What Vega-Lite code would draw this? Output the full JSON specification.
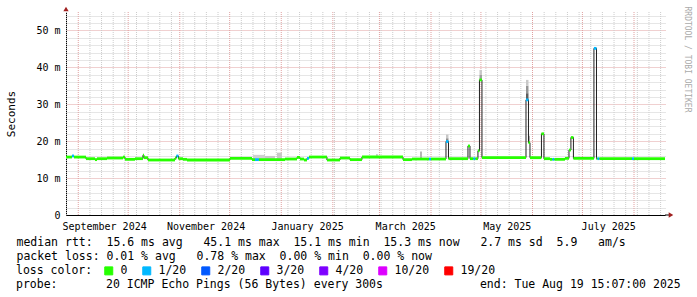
{
  "$schema": "https://vega.github.io/schema/vega-lite/v6.json",
  "width": 599,
  "height": 203,
  "autosize": "none",
  "padding": {"left": 66, "top": 12, "right": 32, "bottom": 82},
  "background": "white",
  "config": {"view": {"stroke": null}, "font": "DejaVu Sans Mono"},
  "datasets": {
    "grid": [
      {"t": "2024-08-25T00:00", "kind": "week"},
      {"t": "2024-09-08T00:00", "kind": "week"},
      {"t": "2024-09-15T00:00", "kind": "week"},
      {"t": "2024-09-22T00:00", "kind": "week"},
      {"t": "2024-09-29T00:00", "kind": "week"},
      {"t": "2024-10-06T00:00", "kind": "week"},
      {"t": "2024-10-13T00:00", "kind": "week"},
      {"t": "2024-10-20T00:00", "kind": "week"},
      {"t": "2024-10-27T00:00", "kind": "week"},
      {"t": "2024-11-03T00:00", "kind": "week"},
      {"t": "2024-11-10T00:00", "kind": "week"},
      {"t": "2024-11-17T00:00", "kind": "week"},
      {"t": "2024-11-24T00:00", "kind": "week"},
      {"t": "2024-12-08T00:00", "kind": "week"},
      {"t": "2024-12-15T00:00", "kind": "week"},
      {"t": "2024-12-22T00:00", "kind": "week"},
      {"t": "2024-12-29T00:00", "kind": "week"},
      {"t": "2025-01-05T00:00", "kind": "week"},
      {"t": "2025-01-12T00:00", "kind": "week"},
      {"t": "2025-01-19T00:00", "kind": "week"},
      {"t": "2025-01-26T00:00", "kind": "week"},
      {"t": "2025-02-02T00:00", "kind": "week"},
      {"t": "2025-02-09T00:00", "kind": "week"},
      {"t": "2025-02-16T00:00", "kind": "week"},
      {"t": "2025-02-23T00:00", "kind": "week"},
      {"t": "2025-03-02T00:00", "kind": "week"},
      {"t": "2025-03-09T00:00", "kind": "week"},
      {"t": "2025-03-16T00:00", "kind": "week"},
      {"t": "2025-03-23T00:00", "kind": "week"},
      {"t": "2025-03-30T00:00", "kind": "week"},
      {"t": "2025-04-06T00:00", "kind": "week"},
      {"t": "2025-04-13T00:00", "kind": "week"},
      {"t": "2025-04-20T00:00", "kind": "week"},
      {"t": "2025-04-27T00:00", "kind": "week"},
      {"t": "2025-05-04T00:00", "kind": "week"},
      {"t": "2025-05-11T00:00", "kind": "week"},
      {"t": "2025-05-18T00:00", "kind": "week"},
      {"t": "2025-05-25T00:00", "kind": "week"},
      {"t": "2025-06-08T00:00", "kind": "week"},
      {"t": "2025-06-15T00:00", "kind": "week"},
      {"t": "2025-06-22T00:00", "kind": "week"},
      {"t": "2025-06-29T00:00", "kind": "week"},
      {"t": "2025-07-06T00:00", "kind": "week"},
      {"t": "2025-07-13T00:00", "kind": "week"},
      {"t": "2025-07-20T00:00", "kind": "week"},
      {"t": "2025-07-27T00:00", "kind": "week"},
      {"t": "2025-08-03T00:00", "kind": "week"},
      {"t": "2025-08-10T00:00", "kind": "week"},
      {"t": "2025-08-17T00:00", "kind": "week"},
      {"t": "2024-09-01T00:00", "kind": "month"},
      {"t": "2024-10-01T00:00", "kind": "month"},
      {"t": "2024-11-01T00:00", "kind": "month"},
      {"t": "2024-12-01T00:00", "kind": "month"},
      {"t": "2025-01-01T00:00", "kind": "month"},
      {"t": "2025-02-01T00:00", "kind": "month"},
      {"t": "2025-03-01T00:00", "kind": "month"},
      {"t": "2025-04-01T00:00", "kind": "month"},
      {"t": "2025-05-01T00:00", "kind": "month"},
      {"t": "2025-06-01T00:00", "kind": "month"},
      {"t": "2025-07-01T00:00", "kind": "month"},
      {"t": "2025-08-01T00:00", "kind": "month"}
    ],
    "median": [
      {"start": "2024-08-24T15:07", "end": "2024-08-28T05:00", "rtt": 15.7, "loss": "0"},
      {"start": "2024-08-28T05:00", "end": "2024-08-29T10:00", "rtt": 16.0, "loss": "1/20"},
      {"start": "2024-08-29T10:00", "end": "2024-09-05T15:00", "rtt": 15.7, "loss": "0"},
      {"start": "2024-09-05T15:00", "end": "2024-09-11T01:00", "rtt": 15.26, "loss": "0"},
      {"start": "2024-09-11T01:00", "end": "2024-09-12T06:00", "rtt": 15.0, "loss": "0"},
      {"start": "2024-09-12T06:00", "end": "2024-09-18T06:00", "rtt": 15.26, "loss": "0"},
      {"start": "2024-09-18T06:00", "end": "2024-09-27T21:00", "rtt": 15.44, "loss": "0"},
      {"start": "2024-09-27T21:00", "end": "2024-09-29T02:00", "rtt": 15.7, "loss": "0"},
      {"start": "2024-09-29T02:00", "end": "2024-10-05T02:00", "rtt": 15.08, "loss": "0"},
      {"start": "2024-10-05T02:00", "end": "2024-10-09T21:00", "rtt": 15.26, "loss": "0"},
      {"start": "2024-10-09T21:00", "end": "2024-10-10T12:00", "rtt": 16.2, "loss": "0"},
      {"start": "2024-10-10T12:00", "end": "2024-10-12T21:00", "rtt": 15.53, "loss": "0"},
      {"start": "2024-10-12T21:00", "end": "2024-10-29T03:00", "rtt": 14.9, "loss": "0"},
      {"start": "2024-10-29T03:00", "end": "2024-10-30T00:00", "rtt": 15.44, "loss": "0"},
      {"start": "2024-10-30T00:00", "end": "2024-10-31T05:00", "rtt": 16.0, "loss": "1/20"},
      {"start": "2024-10-31T05:00", "end": "2024-11-02T22:00", "rtt": 15.26, "loss": "0"},
      {"start": "2024-11-02T22:00", "end": "2024-11-05T08:00", "rtt": 15.08, "loss": "0"},
      {"start": "2024-11-05T08:00", "end": "2024-12-01T04:00", "rtt": 14.9, "loss": "0"},
      {"start": "2024-12-01T04:00", "end": "2024-12-14T10:00", "rtt": 15.35, "loss": "0"},
      {"start": "2024-12-14T10:00", "end": "2024-12-16T05:00", "rtt": 15.0, "loss": "0"},
      {"start": "2024-12-16T05:00", "end": "2024-12-18T14:00", "rtt": 15.0, "loss": "1/20"},
      {"start": "2024-12-18T14:00", "end": "2025-01-03T06:00", "rtt": 15.0, "loss": "0"},
      {"start": "2025-01-03T06:00", "end": "2025-01-10T11:00", "rtt": 15.17, "loss": "0"},
      {"start": "2025-01-10T11:00", "end": "2025-01-12T06:00", "rtt": 15.6, "loss": "0"},
      {"start": "2025-01-12T06:00", "end": "2025-01-14T16:00", "rtt": 15.17, "loss": "0"},
      {"start": "2025-01-14T16:00", "end": "2025-01-16T11:00", "rtt": 14.9, "loss": "0"},
      {"start": "2025-01-16T11:00", "end": "2025-01-17T16:00", "rtt": 15.35, "loss": "1/20"},
      {"start": "2025-01-17T16:00", "end": "2025-01-28T11:00", "rtt": 15.71, "loss": "0"},
      {"start": "2025-01-28T11:00", "end": "2025-02-05T07:00", "rtt": 14.9, "loss": "0"},
      {"start": "2025-02-05T07:00", "end": "2025-02-11T07:00", "rtt": 15.44, "loss": "0"},
      {"start": "2025-02-11T07:00", "end": "2025-02-18T12:00", "rtt": 15.0, "loss": "0"},
      {"start": "2025-02-18T12:00", "end": "2025-03-15T04:00", "rtt": 15.71, "loss": "0"},
      {"start": "2025-03-15T04:00", "end": "2025-03-20T13:00", "rtt": 15.0, "loss": "0"},
      {"start": "2025-03-20T13:00", "end": "2025-03-30T19:00", "rtt": 15.17, "loss": "0"},
      {"start": "2025-03-30T19:00", "end": "2025-04-01T00:00", "rtt": 15.17, "loss": "1/20"},
      {"start": "2025-04-01T00:00", "end": "2025-04-10T00:00", "rtt": 15.17, "loss": "0"},
      {"start": "2025-04-10T00:00", "end": "2025-04-11T12:00", "rtt": 19.9, "loss": "1/20"},
      {"start": "2025-04-11T12:00", "end": "2025-04-23T05:00", "rtt": 15.26, "loss": "0"},
      {"start": "2025-04-23T05:00", "end": "2025-04-24T10:00", "rtt": 18.7, "loss": "0"},
      {"start": "2025-04-24T10:00", "end": "2025-04-26T12:00", "rtt": 15.26, "loss": "0"},
      {"start": "2025-04-26T12:00", "end": "2025-04-27T17:00", "rtt": 15.26, "loss": "1/20"},
      {"start": "2025-04-27T17:00", "end": "2025-04-29T05:00", "rtt": 15.26, "loss": "0"},
      {"start": "2025-04-29T05:00", "end": "2025-04-30T03:00", "rtt": 17.4, "loss": "0"},
      {"start": "2025-04-30T03:00", "end": "2025-05-01T15:00", "rtt": 36.6, "loss": "0"},
      {"start": "2025-05-01T15:00", "end": "2025-05-28T02:00", "rtt": 15.53, "loss": "0"},
      {"start": "2025-05-28T02:00", "end": "2025-05-29T14:00", "rtt": 31.2, "loss": "1/20"},
      {"start": "2025-05-29T14:00", "end": "2025-05-30T11:30", "rtt": 19.6, "loss": "0"},
      {"start": "2025-05-30T11:30", "end": "2025-06-06T09:00", "rtt": 15.53, "loss": "0"},
      {"start": "2025-06-06T09:00", "end": "2025-06-07T21:00", "rtt": 22.0, "loss": "0"},
      {"start": "2025-06-07T21:00", "end": "2025-06-11T12:00", "rtt": 15.26, "loss": "0"},
      {"start": "2025-06-11T12:00", "end": "2025-06-13T00:00", "rtt": 15.08, "loss": "0"},
      {"start": "2025-06-13T00:00", "end": "2025-06-14T05:00", "rtt": 15.08, "loss": "1/20"},
      {"start": "2025-06-14T05:00", "end": "2025-06-20T12:00", "rtt": 15.08, "loss": "0"},
      {"start": "2025-06-20T12:00", "end": "2025-06-22T22:00", "rtt": 15.35, "loss": "0"},
      {"start": "2025-06-22T22:00", "end": "2025-06-24T02:00", "rtt": 17.6, "loss": "0"},
      {"start": "2025-06-24T02:00", "end": "2025-06-25T14:00", "rtt": 21.0, "loss": "0"},
      {"start": "2025-06-25T14:00", "end": "2025-07-07T22:00", "rtt": 15.35, "loss": "0"},
      {"start": "2025-07-07T22:00", "end": "2025-07-09T11:00", "rtt": 45.15, "loss": "1/20"},
      {"start": "2025-07-09T11:00", "end": "2025-07-10T01:00", "rtt": 15.26, "loss": "0"},
      {"start": "2025-07-10T01:00", "end": "2025-07-11T06:00", "rtt": 15.26, "loss": "1/20"},
      {"start": "2025-07-11T06:00", "end": "2025-07-30T19:00", "rtt": 15.26, "loss": "0"},
      {"start": "2025-07-30T19:00", "end": "2025-08-01T00:00", "rtt": 15.26, "loss": "1/20"},
      {"start": "2025-08-01T00:00", "end": "2025-08-19T15:07", "rtt": 15.26, "loss": "0"}
    ],
    "smoke": [
      {"start": "2024-12-15T00:00", "end": "2024-12-22T05:00", "lo": 15.2, "hi": 16.3, "density": 0.1},
      {"start": "2024-12-22T05:00", "end": "2024-12-28T05:00", "lo": 15.2, "hi": 16.0, "density": 0.15},
      {"start": "2024-12-29T10:00", "end": "2025-01-01T10:00", "lo": 15.2, "hi": 16.9, "density": 0.15},
      {"start": "2025-02-27T00:00", "end": "2025-02-28T00:00", "lo": 15.7, "hi": 16.5, "density": 0.15},
      {"start": "2025-03-25T09:00", "end": "2025-03-26T14:00", "lo": 15.2, "hi": 17.2, "density": 0.25},
      {"start": "2025-04-10T00:00", "end": "2025-04-11T12:00", "lo": 19.9, "hi": 20.8, "density": 0.5},
      {"start": "2025-04-10T00:00", "end": "2025-04-11T12:00", "lo": 20.8, "hi": 21.8, "density": 0.15},
      {"start": "2025-04-30T03:00", "end": "2025-05-01T15:00", "lo": 36.6, "hi": 38.0, "density": 0.4},
      {"start": "2025-04-30T03:00", "end": "2025-05-01T15:00", "lo": 38.0, "hi": 39.3, "density": 0.15},
      {"start": "2025-05-28T02:00", "end": "2025-05-29T14:00", "lo": 31.2, "hi": 33.0, "density": 0.8},
      {"start": "2025-05-28T02:00", "end": "2025-05-29T14:00", "lo": 33.0, "hi": 35.0, "density": 0.45},
      {"start": "2025-05-28T02:00", "end": "2025-05-29T14:00", "lo": 35.0, "hi": 36.6, "density": 0.15},
      {"start": "2025-05-29T14:00", "end": "2025-05-30T11:30", "lo": 19.6, "hi": 21.5, "density": 0.3}
    ]
  },
  "title": {
    "text": "probe:\u00a0\u00a0\u00a0\u00a0\u00a0\u00a0\u00a020 ICMP Echo Pings (56 Bytes) every 300s\u00a0\u00a0\u00a0\u00a0\u00a0\u00a0\u00a0\u00a0\u00a0\u00a0\u00a0\u00a0\u00a0\u00a0end: Tue Aug 19 15:07:00 2025",
    "orient": "bottom",
    "anchor": "start",
    "frame": "group",
    "dx": -50,
    "offset": 11,
    "baseline": "alphabetic",
    "font": "DejaVu Sans Mono",
    "fontSize": 11.5,
    "fontWeight": "normal",
    "color": "#000000"
  },
  "resolve": {"scale": {"y": "shared", "x": "shared"}, "axis": {"y": "independent"}},
  "layer": [
    {
      "data": {"name": "grid"},
      "mark": {"type": "rule", "strokeDash": [1, 1], "strokeWidth": 1},
      "encoding": {
        "x": {"field": "t", "type": "temporal"},
        "stroke": {"field": "kind", "type": "nominal", "scale": {"domain": ["week", "month"], "range": ["#cccccc", "#e0a0a0"]}, "legend": null},
        "order": {"field": "kind", "sort": "descending"}
      }
    },
    {
      "data": {"name": "smoke"},
      "mark": {"type": "rect"},
      "encoding": {
        "x": {"field": "start", "type": "temporal"},
        "x2": {"field": "end"},
        "y": {"field": "lo", "type": "quantitative", "axis": null},
        "y2": {"field": "hi"},
        "fill": {"field": "density", "type": "quantitative", "scale": {"domain": [0, 1], "range": ["#e2e2e2", "#404040"]}, "legend": null}
      }
    },
    {
      "data": {"name": "median"},
      "mark": {"type": "line", "interpolate": "step-after", "color": "#202020", "strokeWidth": 1},
      "encoding": {
        "x": {
          "field": "start",
          "type": "temporal",
          "scale": {"domain": [{"year": 2024, "month": 8, "date": 24, "hours": 15, "minutes": 7}, {"year": 2025, "month": 8, "date": 19, "hours": 15, "minutes": 7}]},
          "axis": {
            "orient": "bottom",
            "values": [
              {"year": 2024, "month": 9, "date": 16, "hours": 12},
              {"year": 2024, "month": 11, "date": 16, "hours": 12},
              {"year": 2025, "month": 1, "date": 16, "hours": 12},
              {"year": 2025, "month": 3, "date": 16, "hours": 12},
              {"year": 2025, "month": 5, "date": 16, "hours": 12},
              {"year": 2025, "month": 7, "date": 16, "hours": 12}
            ],
            "format": "%B %Y",
            "labelOverlap": false,
            "labelFlush": false,
            "labelFont": "DejaVu Sans Mono",
            "labelFontSize": 10,
            "labelColor": "#000000",
            "labelPadding": 6,
            "ticks": false,
            "domain": true,
            "domainColor": "#000000",
            "domainWidth": 1,
            "grid": false,
            "title": [
              "median rtt:\u00a0\u00a015.6 ms avg\u00a0\u00a0\u00a045.1 ms max\u00a0\u00a015.1 ms min\u00a0\u00a015.3 ms now\u00a0\u00a0\u00a02.7 ms sd\u00a0\u00a05.9\u00a0\u00a0\u00a0am/s",
              "packet loss: 0.01 % avg\u00a0\u00a0\u00a00.78 % max\u00a0\u00a00.00 % min\u00a0\u00a00.00 % now"
            ],
            "titleFont": "DejaVu Sans Mono",
            "titleFontSize": 11.5,
            "titleFontWeight": "normal",
            "titleColor": "#000000",
            "titleAlign": "left",
            "titleBaseline": "alphabetic",
            "titleX": -50,
            "titleY": 30,
            "titleLineHeight": 14
          }
        },
        "y": {
          "field": "rtt",
          "type": "quantitative",
          "scale": {"domain": [0, 55], "nice": false, "zero": false},
          "axis": {
            "orient": "left",
            "values": [0, 2, 4, 6, 8, 10, 12, 14, 16, 18, 20, 22, 24, 26, 28, 30, 32, 34, 36, 38, 40, 42, 44, 46, 48, 50, 52, 54],
            "labelExpr": "datum.value % 10 == 0 ? (datum.value == 0 ? '0' : datum.value + ' m') : ''",
            "labelFont": "DejaVu Sans Mono",
            "labelFontSize": 10,
            "labelColor": "#000000",
            "labelPadding": 6,
            "labelOverlap": false,
            "ticks": false,
            "domain": true,
            "domainColor": "#000000",
            "grid": true,
            "gridColor": {"condition": {"test": "datum.value % 10 == 0", "value": "#e0a0a0"}, "value": "#cccccc"},
            "gridDash": [1, 1],
            "gridWidth": 1,
            "title": "Seconds",
            "titleFont": "DejaVu Sans Mono",
            "titleFontSize": 11,
            "titleFontWeight": "normal",
            "titleColor": "#000000",
            "titleAngle": -90,
            "titleX": -55,
            "titleY": 101.5,
            "titleAlign": "center",
            "titleBaseline": "middle"
          }
        }
      }
    },
    {
      "data": {"name": "median"},
      "mark": {"type": "rule", "strokeWidth": 2.8},
      "encoding": {
        "x": {"field": "start", "type": "temporal"},
        "x2": {"field": "end"},
        "y": {"field": "rtt", "type": "quantitative", "axis": null},
        "color": {
          "field": "loss",
          "type": "nominal",
          "scale": {"domain": ["0", "1/20", "2/20", "3/20", "4/20", "10/20", "19/20"], "range": ["#26ff00", "#00b8ff", "#0059ff", "#5e00ff", "#7e00ff", "#dd00ff", "#ff0000"]},
          "legend": {
            "orient": "none",
            "legendX": -50,
            "legendY": 253,
            "direction": "horizontal",
            "title": "loss color:",
            "titleOrient": "left",
            "titleFont": "DejaVu Sans Mono",
            "titleFontSize": 11.5,
            "titleFontWeight": "normal",
            "titleColor": "#000000",
            "titlePadding": 10,
            "labelFont": "DejaVu Sans Mono",
            "labelFontSize": 11.5,
            "labelColor": "#000000",
            "labelOffset": 6,
            "columnPadding": 12,
            "symbolType": "square",
            "symbolSize": 64,
            "symbolStrokeWidth": 1,
            "symbolStrokeColor": "#000000",
            "labelLimit": 200,
            "encode": {
              "symbols": {"update": {"fill": {"scale": "color", "field": "value"}, "stroke": {"value": "#000000"}, "strokeWidth": {"value": 1}, "opacity": {"value": 1}, "fillOpacity": {"value": 1}}}
            }
          }
        }
      }
    },
    {
      "data": {"values": [{}]},
      "mark": {"type": "rule", "color": "#000000", "strokeWidth": 1},
      "encoding": {
        "x": {"datum": {"year": 2025, "month": 8, "date": 19, "hours": 15, "minutes": 7}, "type": "temporal"},
        "x2": {"datum": {"year": 2025, "month": 8, "date": 23, "hours": 5, "minutes": 30}},
        "y": {"datum": 0, "type": "quantitative", "axis": null}
      }
    },
    {
      "data": {"values": [{}]},
      "mark": {"type": "point", "shape": "triangle-right", "filled": true, "size": 28, "color": "#a02020", "opacity": 1},
      "encoding": {
        "x": {"datum": {"year": 2025, "month": 8, "date": 23, "hours": 5, "minutes": 30}, "type": "temporal"},
        "y": {"datum": 0, "type": "quantitative", "axis": null}
      }
    },
    {
      "data": {"values": [{}]},
      "mark": {"type": "point", "shape": "triangle-up", "filled": true, "size": 28, "color": "#a02020", "opacity": 1},
      "encoding": {
        "x": {"datum": {"year": 2024, "month": 8, "date": 24, "hours": 15, "minutes": 7}, "type": "temporal"},
        "y": {"datum": 55.8, "type": "quantitative", "axis": null}
      }
    },
    {
      "data": {"values": [{}]},
      "mark": {"type": "rule", "opacity": 0},
      "encoding": {
        "y": {
          "datum": 0,
          "type": "quantitative",
          "axis": {
            "orient": "right",
            "domain": false,
            "ticks": false,
            "labels": false,
            "grid": false,
            "title": "RRDTOOL / TOBI OETIKER",
            "titleFont": "DejaVu Sans Mono",
            "titleFontSize": 8,
            "titleFontWeight": "normal",
            "titleColor": "#aaaaaa",
            "titleAngle": 90,
            "titleX": 21,
            "titleY": 47,
            "titleAlign": "center",
            "titleBaseline": "middle"
          }
        }
      }
    }
  ]
}
